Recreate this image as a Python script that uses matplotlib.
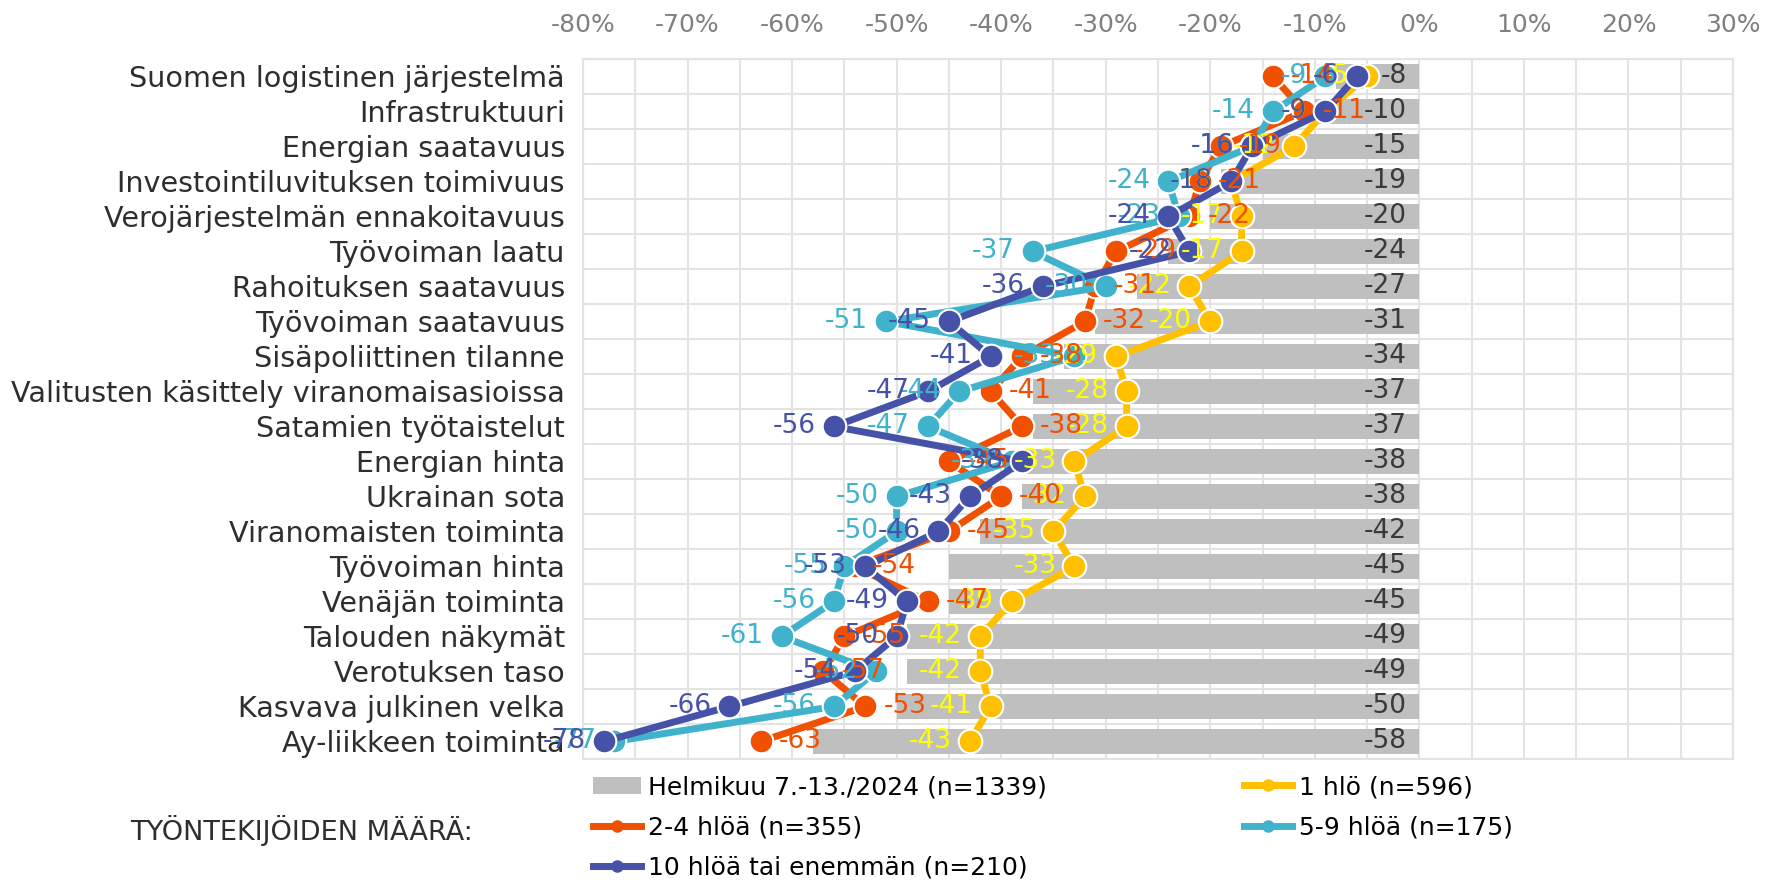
import matplotlib.pyplot as plt
import numpy as np
from matplotlib.lines import Line2D
from matplotlib.patches import Patch

plt.rcParams["font.family"] = "DejaVu Sans"

categories = [
    "Suomen logistinen järjestelmä",
    "Infrastruktuuri",
    "Energian saatavuus",
    "Investointiluvituksen toimivuus",
    "Verojärjestelmän ennakoitavuus",
    "Työvoiman laatu",
    "Rahoituksen saatavuus",
    "Työvoiman saatavuus",
    "Sisäpoliittinen tilanne",
    "Valitusten käsittely viranomaisasioissa",
    "Satamien työtaistelut",
    "Energian hinta",
    "Ukrainan sota",
    "Viranomaisten toiminta",
    "Työvoiman hinta",
    "Venäjän toiminta",
    "Talouden näkymät",
    "Verotuksen taso",
    "Kasvava julkinen velka",
    "Ay-liikkeen toiminta",
]

# kaikki vastaajat (palkit)
total = [-8, -10, -15, -19, -20, -24, -27, -31, -34, -37,
         -37, -38, -38, -42, -45, -45, -49, -49, -50, -58]

# työntekijöiden määrän mukaan
hlo_1 = [-5, -9, -12, -18, -17, -17, -22, -20, -29, -28,
         -28, -33, -32, -35, -33, -39, -42, -42, -41, -43]
hlo_2_4 = [-14, -11, -19, -21, -22, -29, -31, -32, -38, -41,
           -38, -45, -40, -45, -54, -47, -55, -57, -53, -63]
hlo_5_9 = [-9, -14, -16, -24, -23, -37, -30, -51, -33, -44,
           -47, -39, -50, -50, -55, -56, -61, -52, -56, -77]
hlo_10 = [-6, -9, -16, -18, -24, -22, -36, -45, -41, -47,
          -56, -38, -43, -46, -53, -49, -50, -54, -66, -78]

bar_label = "Helmikuu 7.-13./2024 (n=1339)"
series_labels = ["1 hlö (n=596)", "2-4 hlöä (n=355)",
                 "5-9 hlöä (n=175)", "10 hlöä tai enemmän (n=210)"]

# viivan väri, tekstin väri, tekstin puoli
styles = [
    ("#FFC000", "#FFFF00", -1),
    ("#F05000", "#F05000", 1),
    ("#40B2CC", "#40B2CC", -1),
    ("#4652A8", "#4652A8", -1),
]

W, H = 1770, 884
fig = plt.figure(figsize=(W / 100, H / 100), dpi=100)
ax = fig.add_axes([583 / W, 1 - 759 / H, (1733 - 583) / W, (759 - 59) / H])

y = np.arange(len(categories))

ax.barh(y, total, height=0.72, color="#BFBFBF", zorder=2)
for i, v in enumerate(total):
    ax.text(-1.2, i, str(v), ha="right", va="center", color="#3A3A3A",
            fontsize=19, zorder=20)

all_series = [hlo_1, hlo_2_4, hlo_5_9, hlo_10]
for k, (vals, (lc, tc, side)) in enumerate(zip(all_series, styles)):
    ax.plot(vals, y, color=lc, lw=5, marker="o", ms=17,
            mec="white", mew=1.5, zorder=3 + k, solid_capstyle="round")
for k, (vals, (lc, tc, side)) in enumerate(zip(all_series, styles)):
    for i, v in enumerate(vals):
        ax.annotate(str(v), (v, i), xytext=(13 * side, 0),
                    textcoords="offset points",
                    ha="left" if side > 0 else "right", va="center",
                    color=tc, fontsize=19, zorder=10 + k)

# akselit
ax.set_xlim(-80, 30)
ax.set_ylim(len(categories) - 0.5, -0.5)
ax.set_xticks(np.arange(-80, 31, 10))
ax.set_xticks(np.arange(-80, 31, 5), minor=True)
ax.set_xticklabels([f"{t}%" for t in range(-80, 31, 10)])
ax.set_yticks(y)
ax.set_yticklabels(categories)
ax.set_yticks(np.arange(-0.5, len(categories)), minor=True)
ax.xaxis.tick_top()
ax.tick_params(axis="x", which="both", length=0, labelsize=18,
               labelcolor="#808080", pad=16)
ax.tick_params(axis="y", which="both", length=0, labelsize=20.6,
               labelcolor="#2E2E2E", pad=13)
ax.grid(axis="x", which="both", color="#E3E3E3", lw=1.5, zorder=0)
ax.grid(axis="y", which="minor", color="#E3E3E3", lw=1.5, zorder=0)
ax.set_axisbelow(True)
for s in ax.spines.values():
    s.set_color("#E3E3E3")
    s.set_linewidth(1.5)

# selite
handles = [Patch(facecolor="#BFBFBF")]
for lc, tc, side in styles:
    handles.append(Line2D([], [], color=lc, lw=5, marker="o", ms=8))
labels = [bar_label] + series_labels
order = [0, 2, 4, 1, 3]
fig.legend([handles[i] for i in order], [labels[i] for i in order],
           ncol=2, loc="upper left", bbox_to_anchor=(593 / W, 1 - 775 / H),
           frameon=False, fontsize=18, handlelength=1.9, handletextpad=0.3,
           columnspacing=7.9, labelspacing=0.66, borderpad=0,
           borderaxespad=0)

fig.text(130 / W, 1 - 831 / H, "TYÖNTEKIJÖIDEN MÄÄRÄ:", fontsize=19.5,
         color="#2E2E2E", va="center")

fig.savefig("out.png", dpi=100)
